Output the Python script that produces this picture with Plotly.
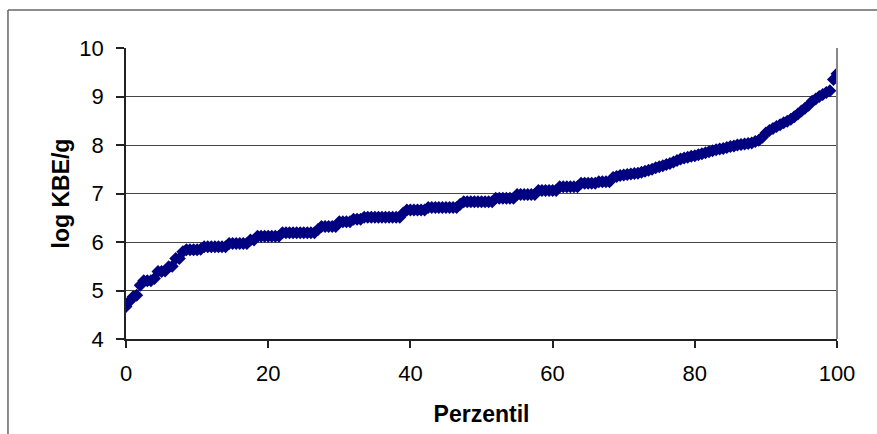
import plotly.graph_objects as go

# Percentile ranks (every 0.5 percentile)
percentiles = [i * 0.5 for i in range(201)]

# log KBE/g values
log_kbe = [
    4.67, 4.78, 4.87, 4.90, 5.11, 5.20, 5.20, 5.20, 5.25, 5.39,
    5.39, 5.40, 5.49, 5.50, 5.66, 5.66, 5.80, 5.84, 5.84, 5.84,
    5.84, 5.85, 5.90, 5.90, 5.90, 5.90, 5.90, 5.90, 5.90, 5.97,
    5.97, 5.97, 5.97, 5.97, 5.97, 6.04, 6.04, 6.12, 6.12, 6.12,
    6.12, 6.12, 6.12, 6.12, 6.19, 6.19, 6.19, 6.19, 6.19, 6.19,
    6.19, 6.19, 6.19, 6.19, 6.26, 6.32, 6.32, 6.32, 6.32, 6.32,
    6.42, 6.42, 6.42, 6.42, 6.47, 6.47, 6.47, 6.51, 6.51, 6.51,
    6.51, 6.51, 6.51, 6.51, 6.51, 6.51, 6.51, 6.51, 6.60, 6.66,
    6.66, 6.66, 6.66, 6.66, 6.66, 6.71, 6.71, 6.71, 6.71, 6.71,
    6.71, 6.71, 6.71, 6.71, 6.78, 6.83, 6.83, 6.83, 6.83, 6.83,
    6.83, 6.83, 6.83, 6.83, 6.90, 6.90, 6.90, 6.90, 6.90, 6.90,
    6.98, 6.98, 6.98, 6.98, 6.98, 6.98, 7.06, 7.06, 7.06, 7.06,
    7.06, 7.06, 7.14, 7.14, 7.14, 7.14, 7.14, 7.14, 7.21, 7.21,
    7.21, 7.21, 7.21, 7.24, 7.24, 7.24, 7.24, 7.33, 7.35, 7.37,
    7.38, 7.39, 7.40, 7.41, 7.42, 7.44, 7.46, 7.48, 7.50, 7.53,
    7.55, 7.57, 7.60, 7.62, 7.65, 7.68, 7.71, 7.73, 7.75, 7.77,
    7.78, 7.80, 7.82, 7.84, 7.86, 7.88, 7.90, 7.92, 7.93, 7.95,
    7.97, 7.98, 8.00, 8.01, 8.02, 8.03, 8.04, 8.07, 8.10, 8.16,
    8.25, 8.30, 8.34, 8.38, 8.42, 8.46, 8.49, 8.53, 8.58, 8.64,
    8.70, 8.76, 8.82, 8.90, 8.95, 9.00, 9.04, 9.08, 9.12, 9.35,
    9.47,
]

x_ticks = [0, 20, 40, 60, 80, 100]
y_ticks = [4, 5, 6, 7, 8, 9, 10]
x_title = "Perzentil"
y_title = "log KBE/g"

FONT = "Liberation Sans, Arial, sans-serif"

fig = go.Figure()
fig.add_trace(go.Scatter(
    x=percentiles, y=log_kbe, mode="markers",
    marker=dict(symbol="diamond", size=10, color="#000080",
                line=dict(width=0)),
    showlegend=False, hoverinfo="x+y",
))

fig.update_layout(
    width=877, height=434,
    margin=dict(l=126, r=40, t=48, b=95),
    paper_bgcolor="white", plot_bgcolor="white",
    font=dict(family=FONT, size=22, color="black"),
    xaxis=dict(
        range=[0, 100], tickvals=x_ticks, ticktext=[str(v) for v in x_ticks],
        showgrid=False, zeroline=False,
        showline=True, linecolor="#222", linewidth=1.5,
        ticks="outside", ticklen=7, tickcolor="#222", tickwidth=1.5,
        ticklabelstandoff=7,
        title=dict(text=x_title, font=dict(family=FONT, size=23, color="black", weight="bold"),
                   standoff=21),
        automargin=False,
    ),
    yaxis=dict(
        range=[4, 10], tickvals=y_ticks, ticktext=[str(v) for v in y_ticks],
        showgrid=True, gridcolor="#444", gridwidth=1,
        zeroline=False,
        showline=True, linecolor="#222", linewidth=1.5,
        ticks="outside", ticklen=8, tickcolor="#222", tickwidth=1.5,
        ticklabelstandoff=8,
        title=dict(text=y_title, font=dict(family=FONT, size=23, color="black", weight="bold"),
                   standoff=3),
        automargin=False,
    ),
    shapes=[
        # right border of plot area
        dict(type="line", xref="paper", yref="paper", x0=1, x1=1, y0=0, y1=1,
             line=dict(color="#888", width=2)),
        # outer chart frame: left edge
        dict(type="line", xref="paper", yref="paper",
             x0=-0.166, x1=-0.166, y0=-0.4, y1=1.1306,
             line=dict(color="#666", width=1.5)),
        # outer chart frame: top edge
        dict(type="line", xref="paper", yref="paper",
             x0=-0.166, x1=1.0563, y0=1.1306, y1=1.1306,
             line=dict(color="#666", width=1.5)),
    ],
)

fig.write_html(
    "out.html",
    config={"displayModeBar": False},
    post_script="document.body.style.margin='0';document.body.style.overflow='hidden';",
)
